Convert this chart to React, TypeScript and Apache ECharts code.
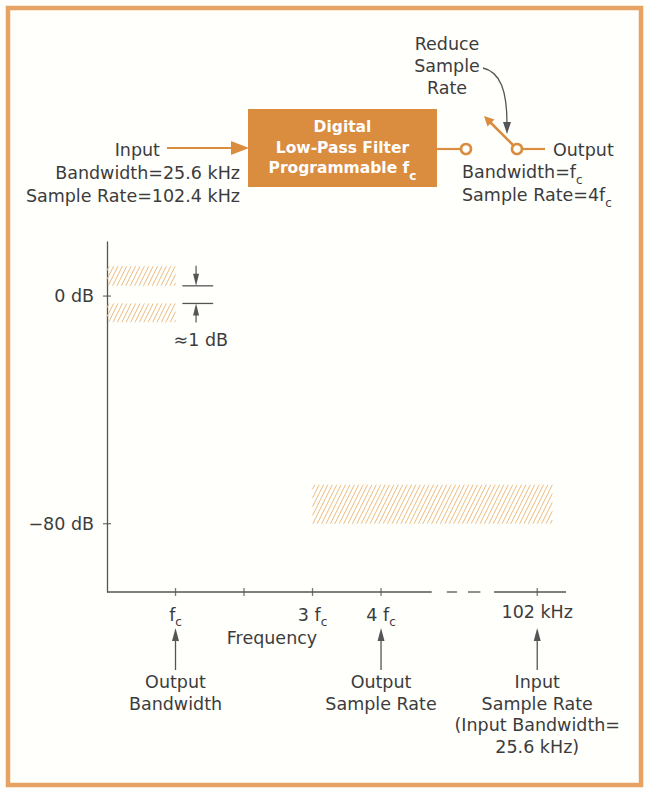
import React, { useEffect, useRef } from 'react';
import * as echarts from 'echarts';

// ---- data (schematic positions in units of fc and dB) ----
const xTickValues = [1, 2, 3, 4, 6.28];
const xLabelValues = [1, 3, 4, 6.28];
const xLabelTexts = ['f|c', '3 f|c', '4 f|c', '102 kHz'];
const yTickValues = [0, -80];
const yTickLabels = ['0 dB', '−80 dB'];
const passbandUpper = [0, 1, 3.6, 10.5];
const passbandLower = [0, 1, -9.2, -2.6];
const stopband = [3, 6.5, -80, -66.3];
const axisSegments = [[0, 4.74], [4.96, 5.11], [5.27, 5.45], [5.65, 6.7]];
const rippleLevels = [3.6, -2.6];
const rippleSpan = [1.1, 1.55];
const rippleArrowX = 1.3;
const markerXs = [1, 4, 6.28];
const markerTexts = [
  ['Output', 'Bandwidth'],
  ['Output', 'Sample Rate'],
  ['Input', 'Sample Rate', '(Input Bandwidth=', '25.6 kHz)'],
];
const X_MIN = 0, X_MAX = 6.7, Y_MIN = -104, Y_MAX = 19;

const FONT = 'DejaVu Sans';
const TXT = '#3c3c3c';
const AXIS = '#555';
const ORANGE = '#DA8C3F';
const HATCH = '#ECBD87';
const FS = 17.5;
const BG = '#fffffc';

const richFor = (s: string) => {
  const parts = s.split('|');
  if (parts.length === 1) return `{t|${s}}`;
  return `{t|${parts[0]}}{s|${parts[1]}}`;
};

export default function App() {
  const ref = useRef<HTMLDivElement>(null);
  useEffect(() => {
    const chart = echarts.init(ref.current!, null, { renderer: 'svg' });
    const option: any = {
      animation: false,
      backgroundColor: BG,
      grid: { left: 107, top: 242, width: 459, height: 350 },
      xAxis: {
        type: 'value', min: X_MIN, max: X_MAX,
        axisLine: { show: false }, axisTick: { show: false }, splitLine: { show: false },
        axisLabel: {
          customValues: xLabelValues,
          margin: 9,
          formatter: (v: number) => {
            const i = xLabelValues.indexOf(v);
            return i >= 0 ? richFor(xLabelTexts[i]) : '';
          },
          rich: {
            t: { fontSize: FS, fontFamily: FONT, color: TXT, lineHeight: 22, verticalAlign: 'middle' },
            s: { fontSize: 12, fontFamily: FONT, color: TXT, lineHeight: 27, verticalAlign: 'bottom' },
          },
        },
      },
      yAxis: {
        type: 'value', min: Y_MIN, max: Y_MAX,
        axisLine: { show: true, lineStyle: { color: AXIS, width: 1.3 } },
        axisTick: { show: false }, splitLine: { show: false },
        axisLabel: {
          customValues: yTickValues,
          margin: 13,
          fontSize: FS, fontFamily: FONT, color: TXT,
          formatter: (v: number) => {
            const i = yTickValues.indexOf(v);
            return i >= 0 ? yTickLabels[i] : '';
          },
        },
      },
      series: [
        {
          type: 'custom', clip: false, silent: true,
          data: [passbandUpper, passbandLower, stopband],
          renderItem: (params: any, api: any) => {
            const x0 = api.value(0), x1 = api.value(1), y0 = api.value(2), y1 = api.value(3);
            const tl = api.coord([x0, y1]);
            const br = api.coord([x1, y0]);
            const left = tl[0], top = tl[1], right = br[0], bottom = br[1];
            const H = bottom - top;
            const slope = 0.5;
            const sp = 4.4;
            const children: any[] = [];
            for (let b = left - slope * H + sp / 2; b < right; b += sp) {
              let sx = b, sy = bottom, ex = b + slope * H, ey = top;
              if (sx < left) { const t = (left - b) / (slope * H); sx = left; sy = bottom - t * H; }
              if (ex > right) { const t = (right - b) / (slope * H); ex = right; ey = bottom - t * H; }
              children.push({ type: 'line', shape: { x1: sx, y1: sy, x2: ex, y2: ey }, style: { stroke: HATCH, lineWidth: 1 } });
            }
            return { type: 'group', children };
          },
        },
        {
          type: 'custom', clip: false, silent: true,
          data: axisSegments,
          renderItem: (params: any, api: any) => {
            const a = api.coord([api.value(0), Y_MIN]);
            const b = api.coord([api.value(1), Y_MIN]);
            return { type: 'line', shape: { x1: a[0], y1: a[1], x2: b[0], y2: b[1] }, style: { stroke: AXIS, lineWidth: 1.3 } };
          },
        },
        {
          type: 'scatter', clip: false, silent: true,
          symbol: 'rect', symbolSize: [1.3, 8],
          itemStyle: { color: AXIS },
          data: xTickValues.map((v) => [v, Y_MIN]),
        },
        {
          type: 'scatter', clip: false, silent: true,
          symbol: 'rect', symbolSize: [8, 1.3],
          itemStyle: { color: AXIS },
          data: yTickValues.map((v) => [X_MIN, v]),
        },
      ],
    };
    chart.setOption(option);
    const px = (x: number, y: number) => chart.convertToPixel({ gridIndex: 0 }, [x, y]) as number[];

    const txt = (text: string, x: number, y: number, align = 'left', extra: any = {}) => ({
      type: 'text', x, y,
      style: { text, fill: TXT, fontSize: FS, fontFamily: FONT, align, verticalAlign: 'middle', lineHeight: 22, ...extra },
    });
    const richTxt = (text: string, x: number, y: number, align = 'left', color = TXT, bold = false, size = FS) => ({
      type: 'text', x, y,
      style: {
        text, align, verticalAlign: 'middle',
        rich: {
          t: { fontSize: size, fontFamily: FONT, fill: color, fontWeight: bold ? 'bold' : 'normal', lineHeight: 22, verticalAlign: 'middle' },
          s: { fontSize: 12, fontFamily: FONT, fill: color, fontWeight: bold ? 'bold' : 'normal', lineHeight: 27, verticalAlign: 'bottom' },
        },
      },
    });
    const seg = (x1: number, y1: number, x2: number, y2: number, stroke = AXIS, lineWidth = 1.3) => ({
      type: 'line', shape: { x1, y1, x2, y2 }, style: { stroke, lineWidth },
    });
    const tri = (pts: number[][], fill = AXIS) => ({ type: 'polygon', shape: { points: pts }, style: { fill } });

    const els: any[] = [];
    // frame
    els.push({ type: 'rect', shape: { x: 8, y: 8, width: 633, height: 777 }, style: { fill: 'none', stroke: '#E6A363', lineWidth: 4.5 } });

    // ---- block diagram ----
    els.push({ type: 'rect', shape: { x: 248, y: 109, width: 189, height: 78 }, style: { fill: ORANGE } });
    els.push(txt('Digital', 342.5, 127, 'center', { fill: '#fff', fontWeight: 'bold', fontSize: 15.5 }));
    els.push(txt('Low-Pass Filter', 342.5, 147.5, 'center', { fill: '#fff', fontWeight: 'bold', fontSize: 15.5 }));
    els.push(richTxt('{t|Programmable f}{s|c}', 342.5, 168, 'center', '#fff', true, 15.5));

    els.push(txt('Input', 160, 150, 'right'));
    els.push(txt('Bandwidth=25.6 kHz', 240, 173, 'right'));
    els.push(txt('Sample Rate=102.4 kHz', 240, 196, 'right'));
    els.push(seg(167, 148, 234, 148, ORANGE, 2));
    els.push(tri([[231, 141], [249, 148], [231, 155]], ORANGE));

    els.push(seg(437, 149, 461, 149, ORANGE, 2.2));
    els.push({ type: 'circle', shape: { cx: 466, cy: 149, r: 5 }, style: { fill: BG, stroke: ORANGE, lineWidth: 2.6 } });
    els.push({ type: 'circle', shape: { cx: 517, cy: 149, r: 5 }, style: { fill: BG, stroke: ORANGE, lineWidth: 2.6 } });
    els.push(seg(522, 149, 545, 149, ORANGE, 2.2));
    els.push(seg(513.5, 145.5, 490, 122, ORANGE, 2.6));
    els.push(tri([[484, 116], [494.5, 119.5], [487.5, 126.5]], ORANGE));

    els.push(txt('Output', 553, 150, 'left'));
    els.push(richTxt('{t|Bandwidth=f}{s|c}', 462, 172, 'left'));
    els.push(richTxt('{t|Sample Rate=4f}{s|c}', 462, 195, 'left'));

    els.push(txt('Reduce', 447, 44, 'center'));
    els.push(txt('Sample', 447, 66, 'center'));
    els.push(txt('Rate', 447, 88, 'center'));
    els.push({
      type: 'bezierCurve',
      shape: { x1: 483, y1: 68, cpx1: 501, cpy1: 72, cpx2: 507, cpy2: 92, x2: 507, y2: 124 },
      style: { stroke: AXIS, lineWidth: 1.3, fill: 'none' },
    });
    els.push(tri([[503, 122], [507, 134], [511, 122]]));

    // ---- ripple annotation ----
    const rA = px(rippleSpan[0], rippleLevels[0]);
    const rB = px(rippleSpan[1], rippleLevels[0]);
    const rC = px(rippleSpan[0], rippleLevels[1]);
    const rD = px(rippleSpan[1], rippleLevels[1]);
    els.push(seg(rA[0], rA[1], rB[0], rB[1]));
    els.push(seg(rC[0], rC[1], rD[0], rD[1]));
    const ax = px(rippleArrowX, 0)[0];
    els.push(seg(ax, rA[1] - 20, ax, rA[1] - 8, AXIS, 1.2));
    els.push(tri([[ax - 3, rA[1] - 12], [ax, rA[1]], [ax + 3, rA[1] - 12]]));
    els.push(seg(ax, rC[1] + 19, ax, rC[1] + 8, AXIS, 1.2));
    els.push(tri([[ax - 3, rC[1] + 12], [ax, rC[1]], [ax + 3, rC[1] + 12]]));
    const rt = px(1.37, -15.5);
    els.push(txt('≈1 dB', rt[0], rt[1], 'center'));

    // ---- frequency axis title and markers ----
    els.push(txt('Frequency', 272, 638, 'center'));
    markerXs.forEach((mx, i) => {
      const x = px(mx, 0)[0];
      els.push(seg(x, 670, x, 636, AXIS, 1.3));
      els.push(tri([[x - 3.5, 641], [x, 628], [x + 3.5, 641]]));
      els.push({
        type: 'text', x, y: 671,
        style: { text: markerTexts[i].join('\n'), fill: TXT, fontSize: FS, fontFamily: FONT, align: 'center', verticalAlign: 'top', lineHeight: 21.7 },
      });
    });

    chart.setOption({ graphic: { elements: els } });
    return () => chart.dispose();
  }, []);
  return <div ref={ref} style={{ position: 'absolute', left: 0, top: 0, width: 646, height: 789 }} />;
}
